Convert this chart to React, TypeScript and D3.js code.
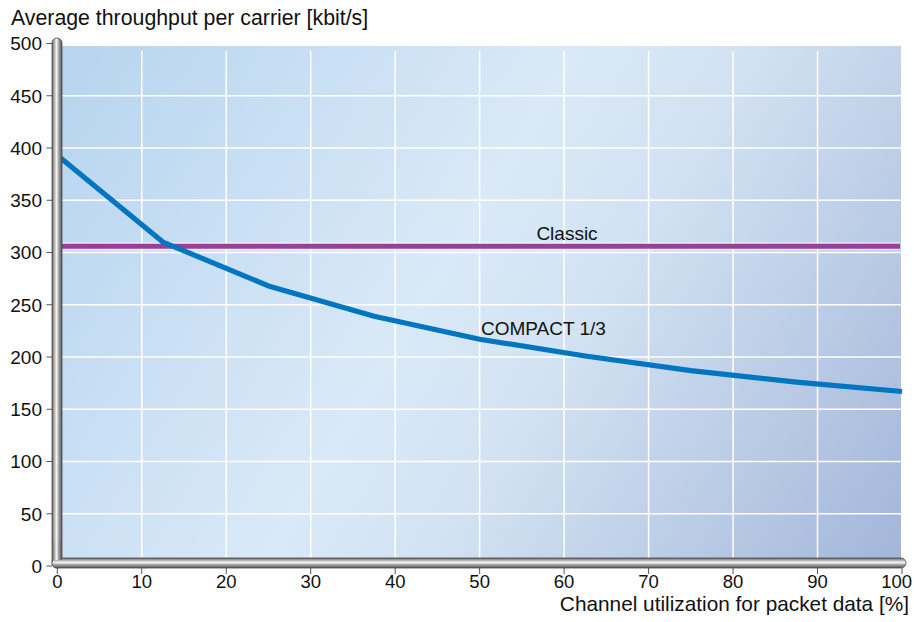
import React from "react";
import * as d3 from "d3";

// Channel utilisation (%) and average throughput (kbit/s)
const utilization = [0, 12.5, 25, 37.5, 50, 62.5, 75, 87.5, 100];
const compactThroughput = [393, 310, 268, 239, 217, 201, 187, 176, 167];
const classicThroughput = 306;

const xTicks = [0, 10, 20, 30, 40, 50, 60, 70, 80, 90, 100];
const yTicks = [0, 50, 100, 150, 200, 250, 300, 350, 400, 450, 500];

const yTitle = "Average throughput per carrier [kbit/s]";
const xTitle = "Channel utilization for packet data [%]";
const classicLabel = "Classic";
const compactLabel = "COMPACT 1/3";

const W = 914;
const H = 622;
const FONT = "'Liberation Sans', Arial, Helvetica, sans-serif";

export default function App() {
  const x = d3.scaleLinear().domain([0, 100]).range([57.3, 902]);
  const y = d3.scaleLinear().domain([0, 500]).range([566, 43.5]);

  // plot panel
  const px0 = 61;
  const px1 = 901;
  const py0 = 46;
  const py1 = 560;

  const line = d3
    .line<number>()
    .x((_, i) => x(utilization[i]))
    .y((d) => y(d));

  const compactPath = line(compactThroughput) || "";
  const lastTick = xTicks[xTicks.length - 1];

  return (
    <svg
      width={W}
      height={H}
      style={{ position: "absolute", left: 0, top: 0 }}
      fontFamily={FONT}
    >
      <defs>
        <linearGradient
          id="panel"
          gradientUnits="userSpaceOnUse"
          x1={px0}
          y1={py0}
          x2={px1}
          y2={py1}
        >
          <stop offset="0" stopColor="#b6d4ef" />
          <stop offset="0.45" stopColor="#dae9f7" />
          <stop offset="0.6" stopColor="#d2e2f2" />
          <stop offset="1" stopColor="#a3b6d9" />
        </linearGradient>
        <linearGradient id="railV" x1="0" y1="0" x2="1" y2="0">
          <stop offset="0" stopColor="#5e5e5e" />
          <stop offset="0.2" stopColor="#a8a8a8" />
          <stop offset="0.45" stopColor="#f4f4f4" />
          <stop offset="0.7" stopColor="#9c9c9c" />
          <stop offset="1" stopColor="#555" />
        </linearGradient>
        <linearGradient id="railH" x1="0" y1="0" x2="0" y2="1">
          <stop offset="0" stopColor="#5e5e5e" />
          <stop offset="0.2" stopColor="#a8a8a8" />
          <stop offset="0.45" stopColor="#f4f4f4" />
          <stop offset="0.7" stopColor="#9c9c9c" />
          <stop offset="1" stopColor="#555" />
        </linearGradient>
      </defs>

      <rect x={px0} y={py0} width={px1 - px0} height={py1 - py0} fill="url(#panel)" />

      {/* grid */}
      {yTicks
        .filter((t) => t > 0 && t < 500)
        .map((t) => (
          <line
            key={"gy" + t}
            x1={px0}
            x2={px1}
            y1={y(t)}
            y2={y(t)}
            stroke="#fff"
            strokeWidth={1.5}
          />
        ))}
      {xTicks
        .filter((t) => t > 0 && t < 100)
        .map((t) => (
          <line
            key={"gx" + t}
            x1={x(t)}
            x2={x(t)}
            y1={51}
            y2={py1}
            stroke="#fff"
            strokeWidth={1.5}
          />
        ))}

      {/* Classic */}
      <line
        x1={px0}
        x2={900}
        y1={y(classicThroughput)}
        y2={y(classicThroughput)}
        stroke="#ffffff"
        strokeOpacity={0.5}
        strokeWidth={8}
      />
      <line
        x1={px0}
        x2={900}
        y1={y(classicThroughput)}
        y2={y(classicThroughput)}
        stroke="#9a3e96"
        strokeWidth={5}
      />

      {/* COMPACT 1/3 */}
      <path d={compactPath} fill="none" stroke="#0076c0" strokeWidth={5.2} strokeLinejoin="round" />

      <text x={567} y={240} fontSize={19} textAnchor="middle" fill="#111">
        {classicLabel}
      </text>
      <text x={481} y={335} fontSize={19} fill="#111">
        {compactLabel}
      </text>

      {/* ticks */}
      {yTicks.map((t) => (
        <g key={"ty" + t}>
          <line x1={46.5} x2={52} y1={y(t)} y2={y(t)} stroke="#555" strokeWidth={1} />
          <text x={42} y={y(t)} dy="0.36em" fontSize={19} textAnchor="end" fill="#111">
            {t}
          </text>
        </g>
      ))}
      {xTicks.map((t) => (
        <g key={"tx" + t}>
          <line x1={x(t)} x2={x(t)} y1={568} y2={574} stroke="#555" strokeWidth={1} />
          <text
            x={t === lastTick ? 912 : x(t)}
            y={588}
            fontSize={18.5}
            textAnchor={t === lastTick ? "end" : "middle"}
            fill="#111"
          >
            {t}
          </text>
        </g>
      ))}

      {/* axis rails */}
      <rect x={52} y={38} width={10} height={530} rx={5} fill="url(#railV)" stroke="#4a4a4a" strokeWidth={0.8} />
      <rect x={52} y={558} width={854} height={10} rx={5} fill="url(#railH)" stroke="#4a4a4a" strokeWidth={0.8} />
      <rect x={52.4} y={540} width={9.2} height={20} fill="url(#railV)" />

      <text x={11} y={25} fontSize={21.3} fill="#111">
        {yTitle}
      </text>
      <text x={909} y={611} fontSize={20.8} textAnchor="end" fill="#111">
        {xTitle}
      </text>
    </svg>
  );
}
